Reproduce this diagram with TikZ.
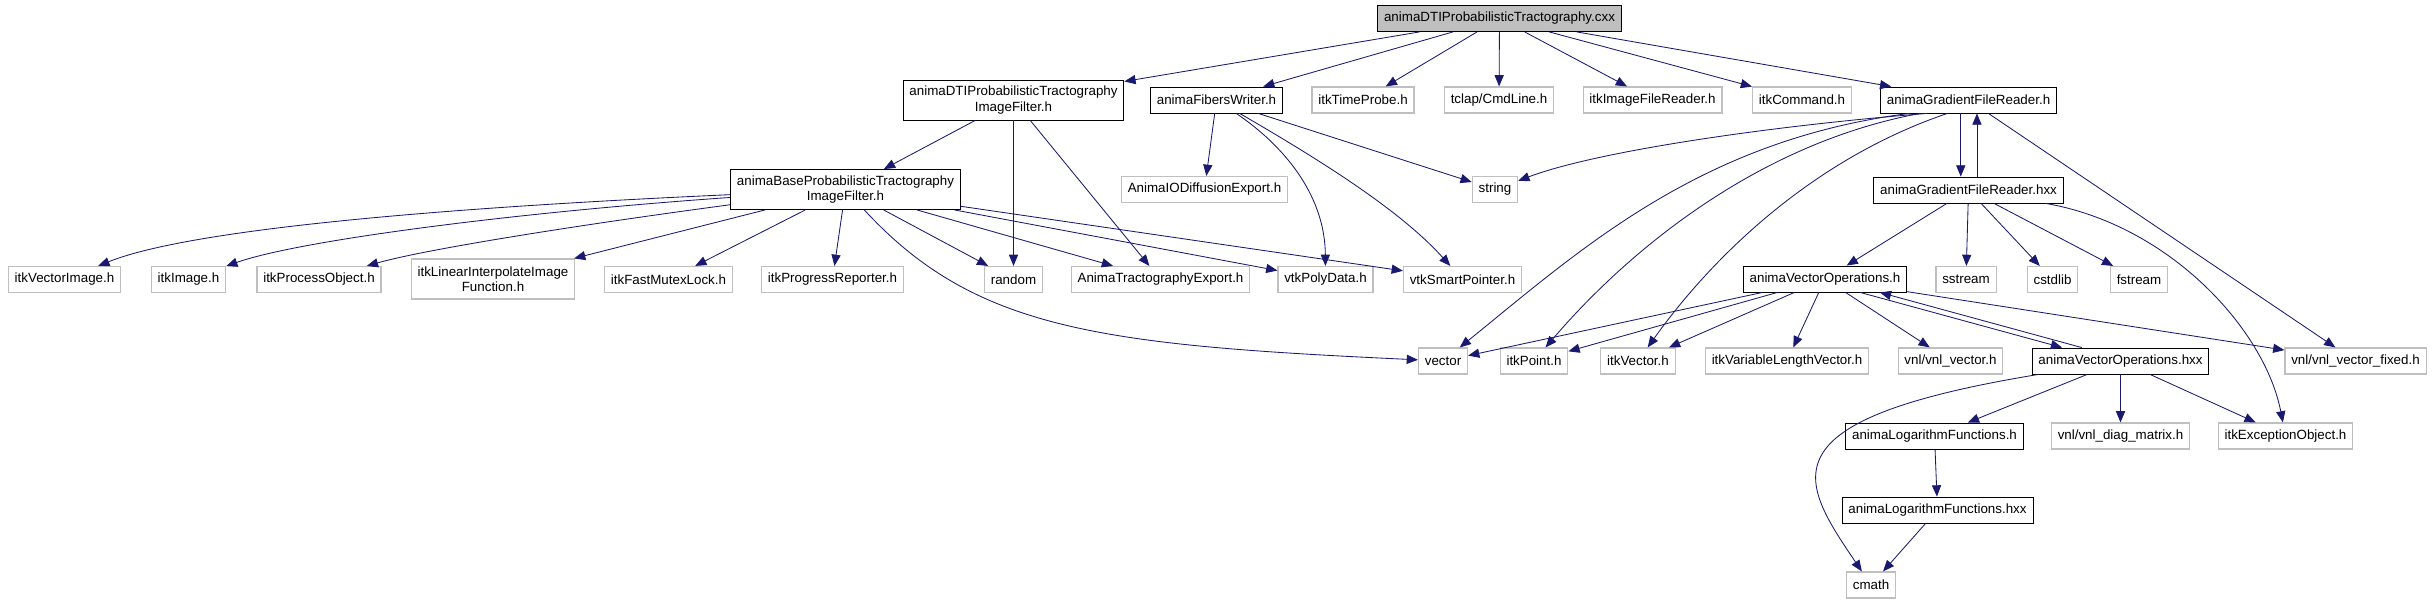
\documentclass[tikz,border=0pt]{standalone}
\usepackage{fontspec}
\setmainfont{Liberation Sans}
\usetikzlibrary{arrows.meta}
\definecolor{incblue}{HTML}{191970}
\definecolor{extgrey}{HTML}{BFBFBF}
\begin{document}
\begin{tikzpicture}[x=0.025cm, y=-0.025cm,
  box/.style={draw, align=center, minimum height=18.5pt, inner xsep=4.5pt,
              inner ysep=1pt, line width=0.6pt, font=\fontsize{9.5}{11}\selectfont},
  hdr/.style={box, draw=black},
  ext/.style={box, draw=extgrey, line width=0.8pt},
  root/.style={box, draw=black, fill=extgrey},
  tall/.style={minimum height=28.5pt},
  inc/.style={-{Triangle[length=8pt,width=6.5pt]}, color=incblue, line width=0.6pt}
]
  \useasboundingbox (0,0) rectangle (2433,604);
  \node[root] (main) at (1499.5,18.5) {animaDTIProbabilisticTractography.cxx};
  \node[hdr, tall] (dtif) at (1013.5,100) {animaDTIProbabilisticTractography\\ImageFilter.h};
  \node[hdr] (fibers) at (1216.5,100) {animaFibersWriter.h};
  \node[ext] (timeprobe) at (1363,100) {itkTimeProbe.h};
  \node[ext] (cmdline) at (1499,100) {tclap/CmdLine.h};
  \node[ext] (imgreader) at (1652.5,100) {itkImageFileReader.h};
  \node[ext] (command) at (1802,100) {itkCommand.h};
  \node[hdr] (gfrh) at (1968.5,100) {animaGradientFileReader.h};
  \node[hdr, tall] (basef) at (845.5,189.5) {animaBaseProbabilisticTractography\\ImageFilter.h};
  \node[ext] (iodiff) at (1204.5,189.5) {AnimaIODiffusionExport.h};
  \node[ext] (stdstring) at (1495,189.5) {string};
  \node[hdr] (gfrhxx) at (1968.5,190) {animaGradientFileReader.hxx};
  \node[ext] (vecimg) at (64.5,279.5) {itkVectorImage.h};
  \node[ext] (itkimg) at (188.5,279.5) {itkImage.h};
  \node[ext] (procobj) at (319,279.5) {itkProcessObject.h};
  \node[ext, tall] (linint) at (493,279) {itkLinearInterpolateImage\\Function.h};
  \node[ext] (mutex) at (668.5,279.5) {itkFastMutexLock.h};
  \node[ext] (progress) at (832.5,279.5) {itkProgressReporter.h};
  \node[ext] (random) at (1013.5,279.5) {random};
  \node[ext] (tractexp) at (1160.5,279.5) {AnimaTractographyExport.h};
  \node[ext] (polydata) at (1325.5,279.5) {vtkPolyData.h};
  \node[ext] (smartptr) at (1462.5,279.5) {vtkSmartPointer.h};
  \node[hdr] (vecoph) at (1825,279) {animaVectorOperations.h};
  \node[ext] (sstream) at (1966,279.5) {sstream};
  \node[ext] (cstdlib) at (2052.5,279.5) {cstdlib};
  \node[ext] (fstream) at (2139,279.5) {fstream};
  \node[ext] (stdvector) at (1443,361) {vector};
  \node[ext] (itkpoint) at (1534,361) {itkPoint.h};
  \node[ext] (itkvec) at (1638,361) {itkVector.h};
  \node[ext] (varlen) at (1787,361) {itkVariableLengthVector.h};
  \node[ext] (vnlvec) at (1950.5,361) {vnl/vnl\_vector.h};
  \node[hdr] (vecophxx) at (2120.5,361) {animaVectorOperations.hxx};
  \node[ext] (vnlfixed) at (2355.5,361) {vnl/vnl\_vector\_fixed.h};
  \node[hdr] (logh) at (1934.5,436) {animaLogarithmFunctions.h};
  \node[ext] (diag) at (2120.5,436) {vnl/vnl\_diag\_matrix.h};
  \node[ext] (except) at (2285.5,436) {itkExceptionObject.h};
  \node[hdr] (logxx) at (1937.5,510) {animaLogarithmFunctions.hxx};
  \node[ext] (cmath) at (1871,585) {cmath};
  \draw[inc] (main) -- (dtif);
  \draw[inc] (main) -- (fibers);
  \draw[inc] (main) -- (timeprobe);
  \draw[inc] (main) -- (cmdline);
  \draw[inc] (main) -- (imgreader);
  \draw[inc] (main) -- (command);
  \draw[inc] (main) -- (gfrh);
  \draw[inc] (dtif) -- (basef);
  \draw[inc] (dtif) -- (random);
  \draw[inc] (dtif) -- (tractexp);
  \draw[inc] (fibers) -- (iodiff);
  \draw[inc] (fibers) -- (stdstring);
  \draw[inc] (fibers) .. controls (1290,150) and (1325,200) .. (polydata);
  \draw[inc] (fibers) .. controls (1320,160) and (1400,210) .. (smartptr);
  \draw[inc] (basef) .. controls (500,205) and (200,225) .. (vecimg);
  \draw[inc] (basef) .. controls (520,212) and (300,240) .. (itkimg);
  \draw[inc] (basef) .. controls (600,222) and (430,248) .. (procobj);
  \draw[inc] (basef) -- (linint);
  \draw[inc] (basef) -- (mutex);
  \draw[inc] (basef) -- (progress);
  \draw[inc] (basef) -- (random);
  \draw[inc] (basef) -- (tractexp);
  \draw[inc] (basef) -- (polydata);
  \draw[inc] (basef) -- (smartptr);
  \draw[inc] (basef) .. controls (975,330) and (1100,345) .. (stdvector);
  \draw[inc] ([xshift=-29.5pt]gfrh.south) .. controls (1780,125) and (1600,150) .. (stdstring);
  \draw[inc] ([xshift=-42pt]gfrh.south) .. controls (1700,140) and (1580,250) .. (stdvector);
  \draw[inc] ([xshift=-34.5pt]gfrh.south) .. controls (1750,145) and (1620,260) .. (itkpoint);
  \draw[inc] ([xshift=-15pt]gfrh.south) .. controls (1810,160) and (1710,260) .. (itkvec);
  \draw[inc] ([xshift=-5.5pt]gfrh.south) -- ([xshift=-5.5pt]gfrhxx.north);
  \draw[inc] ([xshift=6pt]gfrhxx.north) -- ([xshift=6pt]gfrh.south);
  \draw[inc] (gfrh) -- (vnlfixed);
  \draw[inc] (gfrhxx) -- (vecoph);
  \draw[inc] (gfrhxx) -- (sstream);
  \draw[inc] (gfrhxx) -- (cstdlib);
  \draw[inc] (gfrhxx) -- (fstream);
  \draw[inc] (gfrhxx) .. controls (2170,225) and (2265,330) .. (except);
  \draw[inc] (vecoph) -- (stdvector);
  \draw[inc] (vecoph) -- (itkpoint);
  \draw[inc] (vecoph) -- (itkvec);
  \draw[inc] (vecoph) -- (varlen);
  \draw[inc] (vecoph) -- (vnlvec);
  \draw[inc] ([xshift=25pt]vecoph.south) -- ([xshift=-41.5pt]vecophxx.north);
  \draw[inc] ([xshift=-27.5pt]vecophxx.north) -- ([xshift=39pt]vecoph.south);
  \draw[inc] (vecoph) -- (vnlfixed);
  \draw[inc] (vecophxx) .. controls (1760,420) and (1800,480) .. (cmath);
  \draw[inc] (vecophxx) -- (logh);
  \draw[inc] (vecophxx) -- (diag);
  \draw[inc] (vecophxx) -- (except);
  \draw[inc] (logh) -- (logxx);
  \draw[inc] (logxx) -- (cmath);
\end{tikzpicture}
\end{document}
